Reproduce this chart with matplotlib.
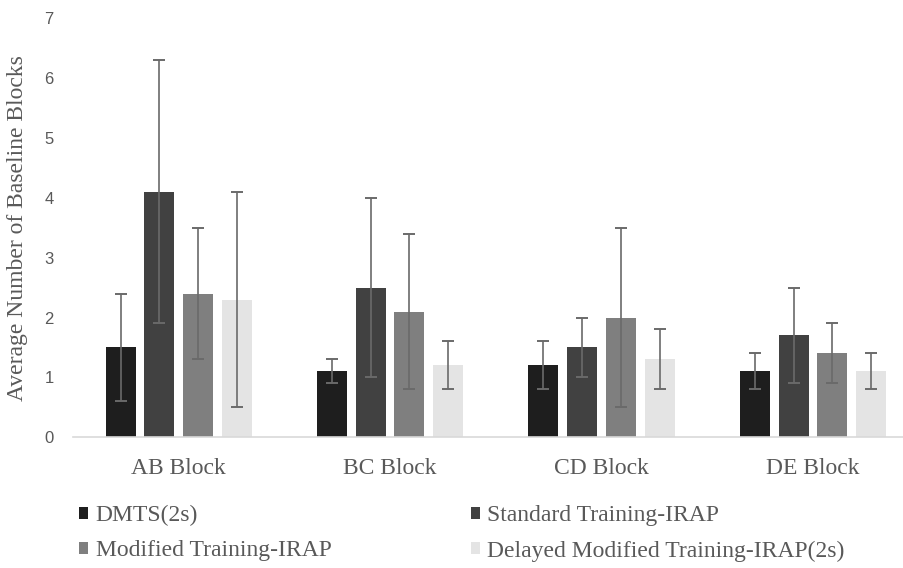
#!/usr/bin/env python3
"""Grouped bar chart: average number of baseline blocks per block type and condition."""

import matplotlib

matplotlib.use("Agg")
import matplotlib.pyplot as plt
import numpy as np
from matplotlib.patches import Patch

CATEGORIES = ["AB Block", "BC Block", "CD Block", "DE Block"]
SERIES = [
    "DMTS(2s)",
    "Standard Training-IRAP",
    "Modified Training-IRAP",
    "Delayed Modified Training-IRAP(2s)",
]

# means per series, one value per block
DMTS = [1.5, 1.1, 1.2, 1.1]
STANDARD = [4.1, 2.5, 1.5, 1.7]
MODIFIED = [2.4, 2.1, 2.0, 1.4]
DELAYED = [2.3, 1.2, 1.3, 1.1]

# symmetric error bar half-lengths
DMTS_ERR = [0.9, 0.2, 0.4, 0.3]
STANDARD_ERR = [2.2, 1.5, 0.5, 0.8]
MODIFIED_ERR = [1.1, 1.3, 1.5, 0.5]
DELAYED_ERR = [1.8, 0.4, 0.5, 0.3]

COLORS = ["#1e1e1e", "#414141", "#7f7f7f", "#e4e4e4"]
GRAY_TEXT = "#595959"
SERIF = "Liberation Serif"


def main() -> None:
    means = [DMTS, STANDARD, MODIFIED, DELAYED]
    errs = [DMTS_ERR, STANDARD_ERR, MODIFIED_ERR, DELAYED_ERR]

    fig = plt.figure(figsize=(9.04, 5.68), dpi=100)
    ax = fig.add_axes([0.0808, 0.2301, 0.9353, 0.7382])

    x = np.arange(len(CATEGORIES))
    width = 0.142
    pitch = 0.183
    for i, (vals, err, color) in enumerate(zip(means, errs, COLORS)):
        ax.bar(
            x + (i - 1.5) * pitch,
            vals,
            width=width,
            color=color,
            edgecolor="none",
            yerr=err,
            error_kw=dict(ecolor="#6a6a6a", elinewidth=1.2, capsize=4.6, capthick=1.4),
            zorder=2,
        )

    ax.set_xlim(-0.5, len(CATEGORIES) - 0.5)
    ax.set_ylim(0, 7)
    ax.set_yticks(range(8))
    ax.set_xticks(x)
    ax.set_xticklabels(CATEGORIES, family=SERIF, fontsize=17, color=GRAY_TEXT)
    ax.tick_params(axis="x", length=0, pad=15)
    ax.tick_params(axis="y", length=0, pad=14, labelsize=12, labelcolor=GRAY_TEXT)
    for lbl in ax.get_yticklabels():
        lbl.set_family("Liberation Sans")

    for side in ["top", "right", "left"]:
        ax.spines[side].set_visible(False)
    ax.spines["bottom"].set_color("#d9d9d9")
    ax.spines["bottom"].set_linewidth(1.2)

    ax.set_ylabel(
        "Average Number of Baseline Blocks",
        family=SERIF,
        fontsize=17,
        color=GRAY_TEXT,
        labelpad=12,
    )

    handles = [Patch(facecolor=c, edgecolor="none", label=s) for s, c in zip(SERIES, COLORS)]
    # ncol=2 fills column-wise, so reorder to get the reference's row layout
    order = [0, 2, 1, 3]
    leg = fig.legend(
        handles=[handles[k] for k in order],
        loc="upper left",
        bbox_to_anchor=(79 / 904, 1 - 505 / 568),
        ncol=2,
        frameon=False,
        prop=dict(family=SERIF, size=17),
        handlelength=0.4,
        handleheight=0.4,
        handletextpad=0.3,
        columnspacing=5.9,
        labelspacing=0.6,
        borderpad=0,
        borderaxespad=0,
    )
    for t in leg.get_texts():
        t.set_color(GRAY_TEXT)

    fig.savefig("out.png", dpi=100, facecolor="white")
    plt.close(fig)


if __name__ == "__main__":
    main()
